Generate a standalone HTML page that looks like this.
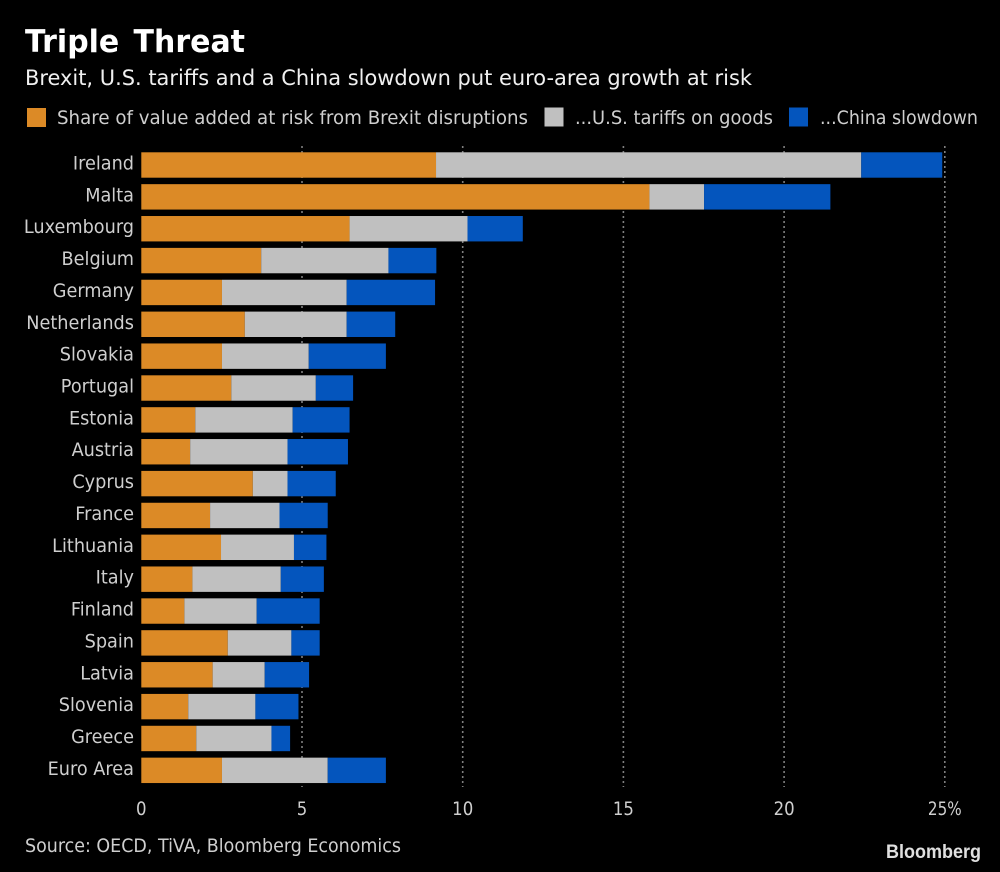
<!DOCTYPE html>
<html lang="en">
<head>
<meta charset="utf-8">
<title>Triple Threat</title>
<style>
html,body{margin:0;padding:0;background:#000;}
svg{display:block;}
text{font-family:"DejaVu Sans","Liberation Sans",sans-serif;}
</style>
</head>
<body>
<svg id="chart" xmlns="http://www.w3.org/2000/svg" width="1000" height="872" viewBox="0 0 1000 872">
  <rect x="0" y="0" width="1000" height="872" fill="#000"/>
  <text x="25" y="52" font-size="31" font-weight="700" fill="#fff" word-spacing="4" textLength="220" lengthAdjust="spacingAndGlyphs">Triple Threat</text>
  <text x="25" y="85" font-size="21" fill="#f0f0f0" textLength="727" lengthAdjust="spacingAndGlyphs">Brexit, U.S. tariffs and a China slowdown put euro-area growth at risk</text>

  <rect x="27" y="108" width="19" height="19" fill="#dc8a26"/>
  <text x="57" y="124" font-size="19" fill="#cfcfcf" textLength="471" lengthAdjust="spacingAndGlyphs">Share of value added at risk from Brexit disruptions</text>
  <rect x="544.5" y="107.5" width="19" height="19" fill="#c0c0c0"/>
  <text x="575" y="124" font-size="19" fill="#cfcfcf" textLength="198" lengthAdjust="spacingAndGlyphs">...U.S. tariffs on goods</text>
  <rect x="789" y="107.5" width="19" height="19" fill="#0455bd"/>
  <text x="820" y="124" font-size="19" fill="#cfcfcf" textLength="158" lengthAdjust="spacingAndGlyphs">...China slowdown</text>

  <g id="grid"></g>
  <g id="bars"></g>
  <g id="y-axis"></g>
  <g id="x-axis"></g>

  <text x="25" y="852" font-size="19" fill="#cfcfcf" textLength="376" lengthAdjust="spacingAndGlyphs">Source: OECD, TiVA, Bloomberg Economics</text>
  <text x="886" y="858" font-size="19" font-weight="700" fill="#e0e0e0" style="font-family:'Liberation Sans',sans-serif" textLength="95" lengthAdjust="spacingAndGlyphs">Bloomberg</text>
</svg>
<script>
const categories = ["Ireland","Malta","Luxembourg","Belgium","Germany","Netherlands","Slovakia","Portugal","Estonia","Austria","Cyprus","France","Lithuania","Italy","Finland","Spain","Latvia","Slovenia","Greece","Euro Area"];
const brexitValues = [9.17,15.81,6.48,3.73,2.51,3.22,2.51,2.80,1.68,1.52,3.47,2.14,2.48,1.59,1.34,2.69,2.22,1.46,1.71,2.51];
const usTariffValues = [13.23,1.70,3.67,3.96,3.88,3.17,2.70,2.63,3.03,3.03,1.08,2.16,2.27,2.75,2.25,1.98,1.62,2.09,2.34,3.29];
const chinaValues = [2.52,3.93,1.72,1.49,2.75,1.51,2.40,1.16,1.77,1.88,1.50,1.50,1.01,1.34,1.96,0.88,1.38,1.34,0.58,1.81];
const xTicks = [0,5,10,15,20,25];
const xTickSuffix = ["","","","","","%"];

const NS = "http://www.w3.org/2000/svg";
function xScale(v){ return 141.3 + v * 32.14; }
function yScale(i){ return 152.3 + i * 31.86; }
const barHeight = 25.4;

const gridGroup = document.getElementById("grid");
const barGroup = document.getElementById("bars");
const yGroup = document.getElementById("y-axis");
const xGroup = document.getElementById("x-axis");

function squeeze(el, ratio){
  const natural = el.getComputedTextLength();
  el.setAttribute("textLength", natural * ratio);
  el.setAttribute("lengthAdjust", "spacingAndGlyphs");
}

xTicks.forEach(function(t, i){
  if (t !== 0) {
    const line = document.createElementNS(NS, "line");
    line.setAttribute("x1", xScale(t));
    line.setAttribute("x2", xScale(t));
    line.setAttribute("y1", 146);
    line.setAttribute("y2", 787);
    line.setAttribute("stroke", "#808080");
    line.setAttribute("stroke-width", "1.6");
    line.setAttribute("stroke-dasharray", "2 3");
    
    
    gridGroup.appendChild(line);
  }
  const label = document.createElementNS(NS, "text");
  label.setAttribute("x", xScale(t));
  label.setAttribute("y", 815);
  label.setAttribute("font-size", "19");
  label.setAttribute("fill", "#cfcfcf");
  label.setAttribute("text-anchor", "middle");
  label.textContent = t + xTickSuffix[i];
  
  
  xGroup.appendChild(label);
  squeeze(label, xTickSuffix[i] ? 0.8 : 0.87);
});

const seriesList = [brexitValues, usTariffValues, chinaValues];
const seriesColors = ["#dc8a26", "#c0c0c0", "#0455bd"];

categories.forEach(function(name, i){
  let cumulative = 0;
  seriesList.forEach(function(series, s){
    const rect = document.createElementNS(NS, "rect");
    const start = xScale(cumulative);
    cumulative += series[i];
    rect.setAttribute("x", start);
    rect.setAttribute("y", yScale(i));
    rect.setAttribute("width", xScale(cumulative) - start);
    rect.setAttribute("height", barHeight);
    rect.setAttribute("fill", seriesColors[s]);
    
    
    barGroup.appendChild(rect);
  });
  const label = document.createElementNS(NS, "text");
  label.setAttribute("x", 134);
  label.setAttribute("y", yScale(i) + 17.2);
  label.setAttribute("font-size", "19");
  label.setAttribute("fill", "#cfcfcf");
  label.setAttribute("text-anchor", "end");
  label.textContent = name;
  
  
  yGroup.appendChild(label);
  squeeze(label, 0.93);
});
</script>
</body>
</html>
